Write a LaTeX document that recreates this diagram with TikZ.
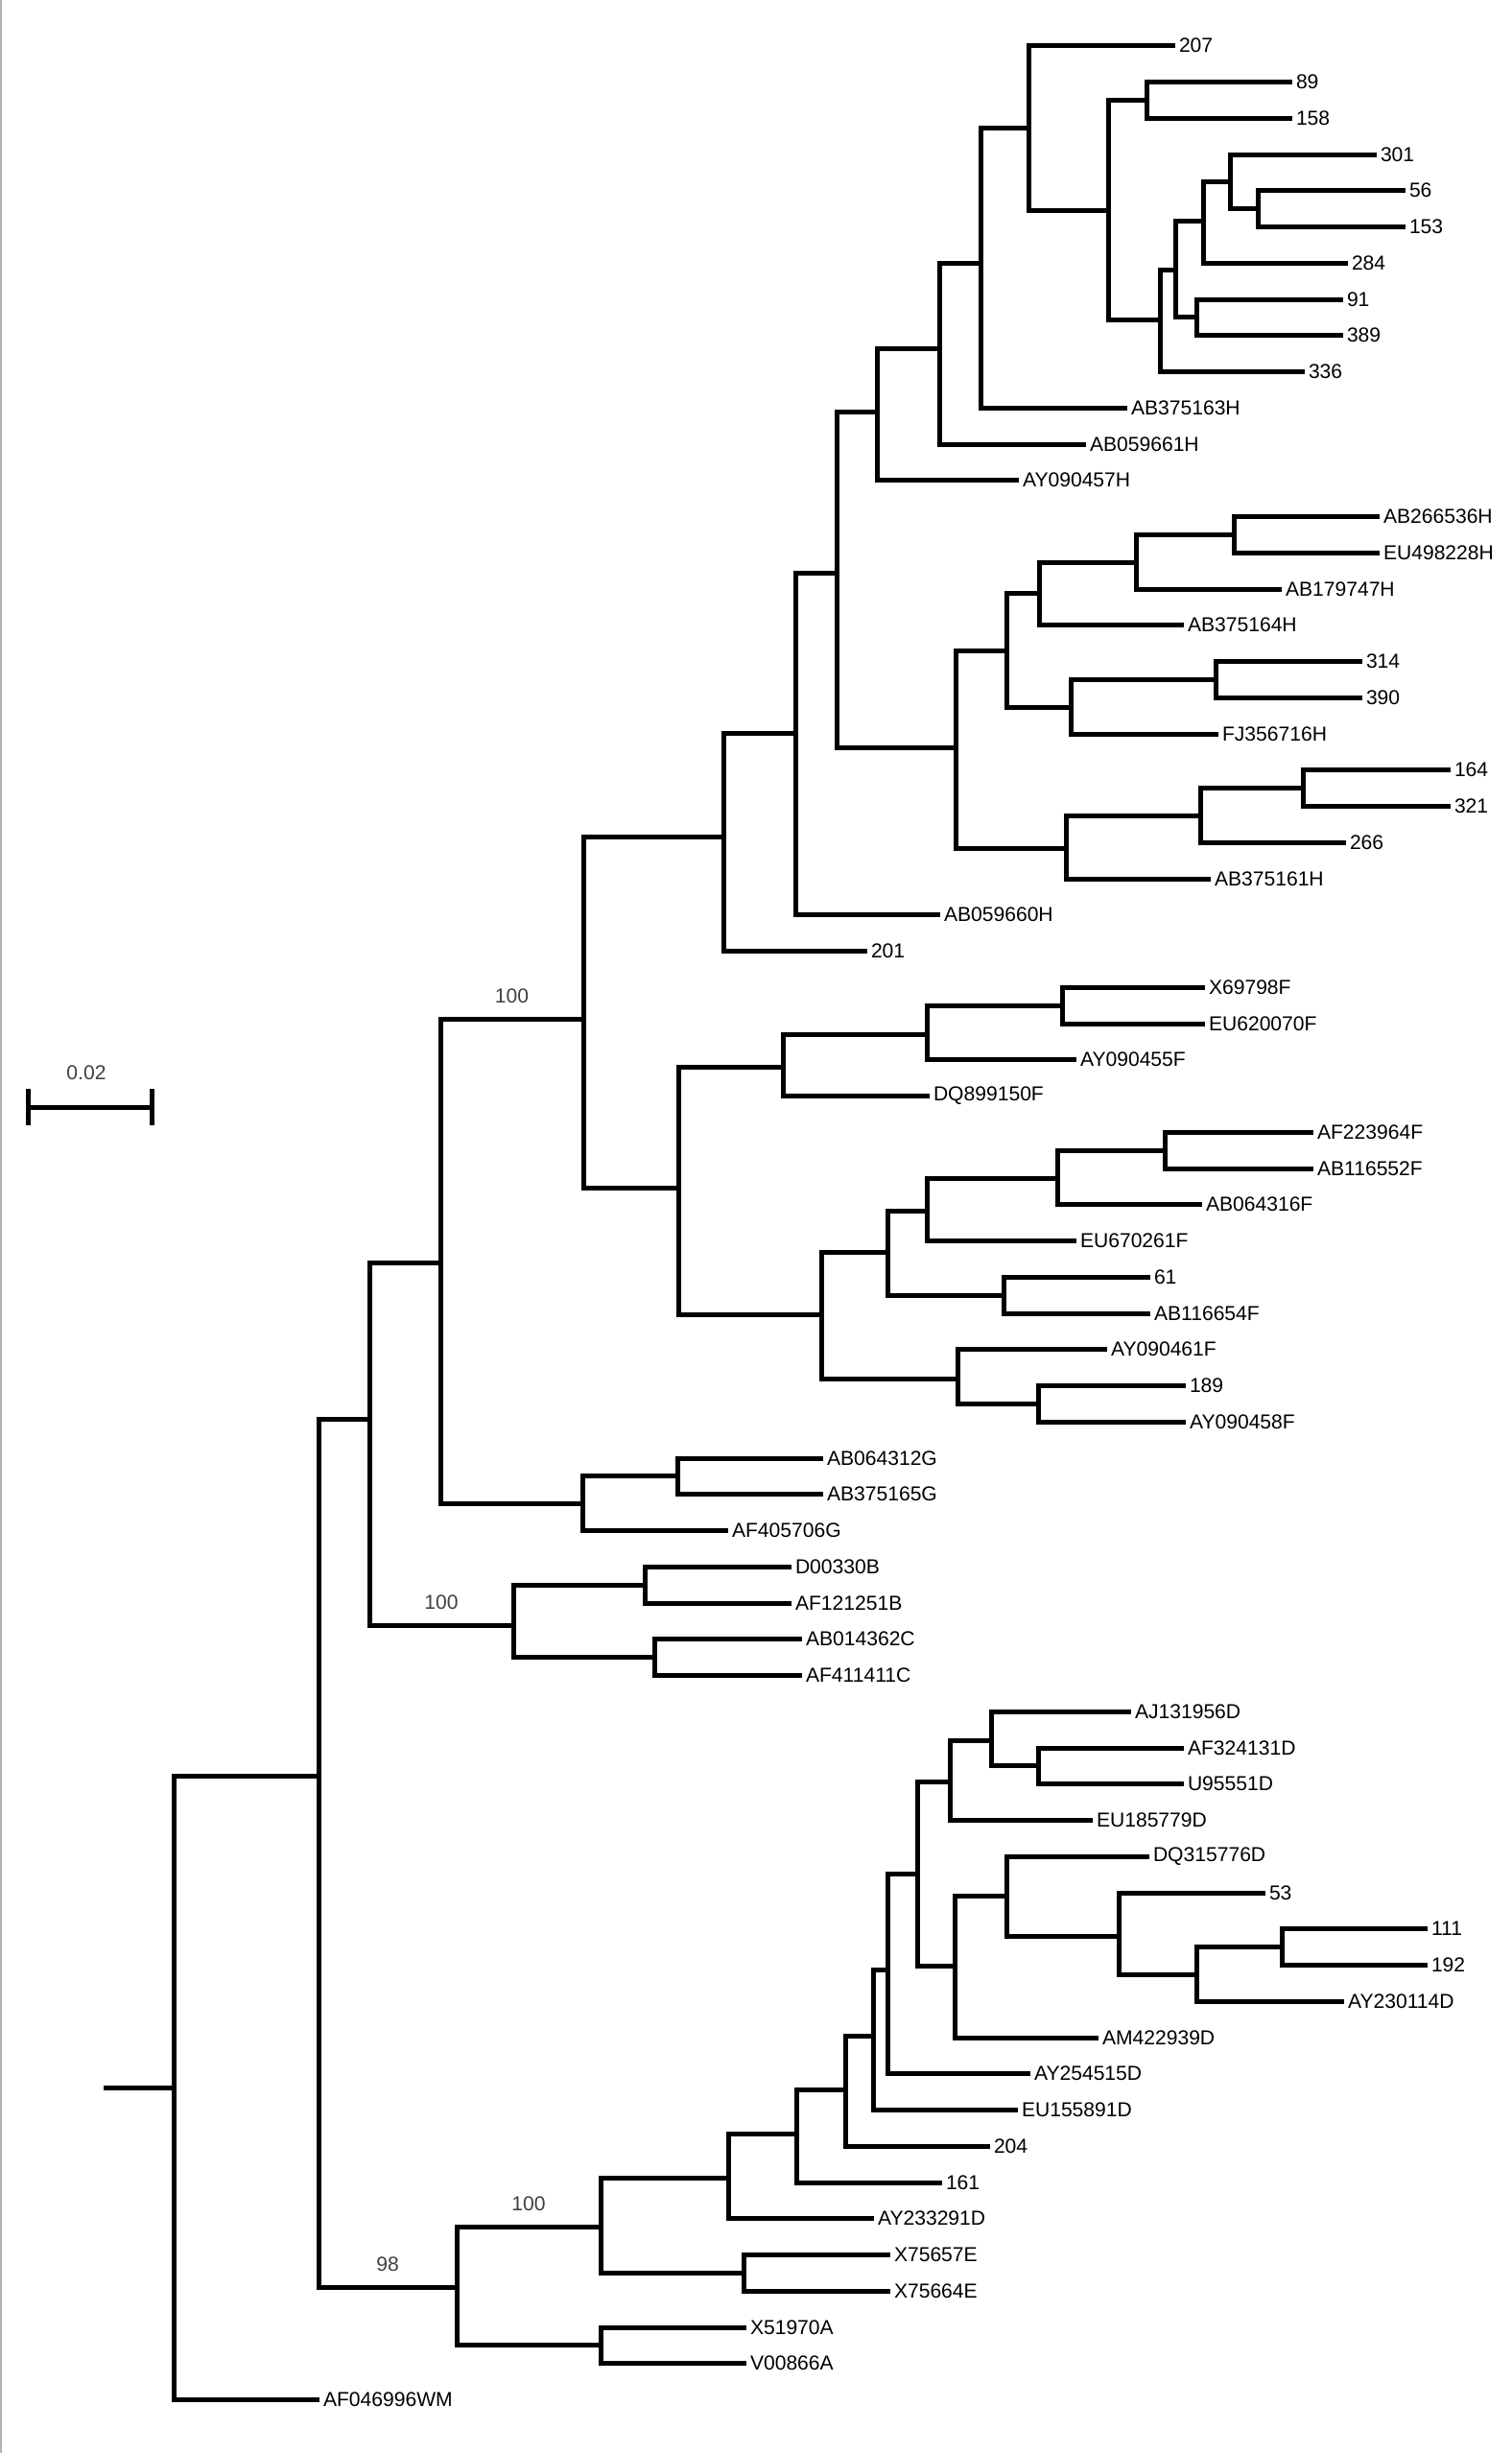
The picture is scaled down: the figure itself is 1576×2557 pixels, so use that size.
\documentclass[tikz,border=0pt]{standalone}
\usepackage{fontspec}
\setmainfont{Liberation Sans}
\tikzset{
	branch/.style={line width=0.5mm},
	leaf/.style={anchor=west, inner sep=0pt, outer xsep=0.4mm, font=\fontsize{6pt}{7pt}\selectfont},
	support/.style={above, inner sep=1.35mm, text=black!75, font=\fontsize{6pt}{7pt}\selectfont}
}

\begin{document}
\begin{tikzpicture}[x=0.1mm, y=-0.1mm]
			%%%%% START %%%%%
			\useasboundingbox (0,0) rectangle (1576,2557);
			\draw[black!30, line width=0.2mm] (1,0) -- (1,2557);
			
			% scale bar
			\coordinate (sbL) at (29,1154);
			\coordinate (sbR) at (158,1154);
			\draw[branch] (sbL) -- (sbR);
			\draw[branch] ([yshift=1.9mm]sbL) -- ([yshift=-1.9mm]sbL);
			\draw[branch] ([yshift=1.9mm]sbR) -- ([yshift=-1.9mm]sbR);
			\node[text=black!75, font=\fontsize{6pt}{7pt}\selectfont] (sbtext) at (90,1118) {0.02};
			
			% inner nodes
			\coordinate (base) at (108,2176);
			\coordinate (root) at (181,2176);
			\coordinate (nMain) at (332,1851);
			\coordinate (nHFGBC) at (385,1479);
			\coordinate (nHFG) at (459,1316);
			\coordinate (nHF) at (608,1062);
			
			\coordinate (nH) at (754,872);
			\coordinate (nH2) at (829,764);
			\coordinate (nH3) at (872,597);
			\coordinate (nH4) at (914,429);
			\coordinate (nH6) at (979,363);
			\coordinate (nH7) at (1022,274);
			\coordinate (nH8) at (1072,133.5);
			\coordinate (nH9) at (1155,219);
			\coordinate (nH10) at (1195,104.4);
			\coordinate (nH11) at (1209,333);
			\coordinate (nH12) at (1225,281);
			\coordinate (nH13) at (1254,230);
			\coordinate (nH15) at (1282,189.3);
			\coordinate (nH16) at (1311,217.6);
			\coordinate (nH14) at (1247,330.9);
			\coordinate (nH5) at (996,779);
			\coordinate (nH17) at (1049,678);
			\coordinate (nH19) at (1083,618);
			\coordinate (nH21) at (1184,586);
			\coordinate (nH22) at (1286,557.4);
			\coordinate (nH20) at (1116,737);
			\coordinate (nH23) at (1267,708.4);
			\coordinate (nH18) at (1111,884);
			\coordinate (nH24) at (1251,850.5);
			\coordinate (nH25) at (1358,821.6);
			
			\coordinate (nF) at (707,1238);
			\coordinate (nF1) at (816,1112);
			\coordinate (nF3) at (966,1078);
			\coordinate (nF4) at (1107,1048.1);
			\coordinate (nF2) at (856,1370);
			\coordinate (nF5) at (925,1305);
			\coordinate (nF7) at (966,1262);
			\coordinate (nF9) at (1102,1228);
			\coordinate (nF10) at (1214,1199.1);
			\coordinate (nF8) at (1046,1350.1);
			\coordinate (nF6) at (998,1437);
			\coordinate (nF11) at (1082,1463.4);
			
			\coordinate (nG) at (607,1567);
			\coordinate (nG1) at (706,1538.9);
			\coordinate (nBC) at (535,1694);
			\coordinate (nB) at (672,1652.1);
			\coordinate (nC) at (682,1727.6);
			
			\coordinate (n98) at (476,2384);
			\coordinate (nDE) at (626,2321);
			\coordinate (nA) at (626,2444.9);
			\coordinate (nE) at (775,2369.4);
			\coordinate (nD) at (759,2270);
			\coordinate (nD1) at (830,2224);
			\coordinate (nD2) at (881,2178);
			\coordinate (nD3) at (910,2122);
			\coordinate (nD4) at (925,2053);
			\coordinate (nD5) at (956,1953);
			\coordinate (nD6) at (990,1857);
			\coordinate (nD8) at (1033,1814);
			\coordinate (nD9) at (1082,1840.9);
			\coordinate (nD7) at (995,2049);
			\coordinate (nD10) at (1049,1976);
			\coordinate (nD11) at (1166,2018);
			\coordinate (nD12) at (1247,2058);
			\coordinate (nD13) at (1336,2029.6);
			
			% tips
			\node[leaf] (t207) at (1225,47.7) {207};
			\node[leaf] (t89) at (1347,85.5) {89};
			\node[leaf] (t158) at (1347,123.2) {158};
			\node[leaf] (t301) at (1435,161.0) {301};
			\node[leaf] (t56) at (1465,198.7) {56};
			\node[leaf] (t153) at (1465,236.5) {153};
			\node[leaf] (t284) at (1405,274.2) {284};
			\node[leaf] (t91) at (1400,312.0) {91};
			\node[leaf] (t389) at (1400,349.7) {389};
			\node[leaf] (t336) at (1360,387.5) {336};
			\node[leaf] (tAB375163H) at (1175,425.2) {AB375163H};
			\node[leaf] (tAB059661H) at (1132,463.0) {AB059661H};
			\node[leaf] (tAY090457H) at (1062,500.7) {AY090457H};
			\node[leaf] (tAB266536H) at (1438,538.5) {AB266536H};
			\node[leaf] (tEU498228H) at (1438,576.2) {EU498228H};
			\node[leaf] (tAB179747H) at (1336,614.0) {AB179747H};
			\node[leaf] (tAB375164H) at (1234,651.7) {AB375164H};
			\node[leaf] (t314) at (1420,689.5) {314};
			\node[leaf] (t390) at (1420,727.2) {390};
			\node[leaf] (tFJ356716H) at (1270,765.0) {FJ356716H};
			\node[leaf] (t164) at (1512,802.7) {164};
			\node[leaf] (t321) at (1512,840.5) {321};
			\node[leaf] (t266) at (1403,878.2) {266};
			\node[leaf] (tAB375161H) at (1262,916.0) {AB375161H};
			\node[leaf] (tAB059660H) at (980,953.7) {AB059660H};
			\node[leaf] (t201) at (904,991.5) {201};
			
			\node[leaf] (tX69798F) at (1256,1029.2) {X69798F};
			\node[leaf] (tEU620070F) at (1256,1067.0) {EU620070F};
			\node[leaf] (tAY090455F) at (1122,1104.7) {AY090455F};
			\node[leaf] (tDQ899150F) at (969,1142.5) {DQ899150F};
			\node[leaf] (tAF223964F) at (1369,1180.2) {AF223964F};
			\node[leaf] (tAB116552F) at (1369,1218.0) {AB116552F};
			\node[leaf] (tAB064316F) at (1253,1255.7) {AB064316F};
			\node[leaf] (tEU670261F) at (1122,1293.5) {EU670261F};
			\node[leaf] (t61) at (1199,1331.2) {61};
			\node[leaf] (tAB116654F) at (1199,1369.0) {AB116654F};
			\node[leaf] (tAY090461F) at (1154,1406.7) {AY090461F};
			\node[leaf] (t189) at (1236,1444.5) {189};
			\node[leaf] (tAY090458F) at (1236,1482.2) {AY090458F};
			
			\node[leaf] (tAB064312G) at (858,1520.0) {AB064312G};
			\node[leaf] (tAB375165G) at (858,1557.7) {AB375165G};
			\node[leaf] (tAF405706G) at (759,1595.5) {AF405706G};
			\node[leaf] (tD00330B) at (825,1633.2) {D00330B};
			\node[leaf] (tAF121251B) at (825,1671.0) {AF121251B};
			\node[leaf] (tAB014362C) at (836,1708.7) {AB014362C};
			\node[leaf] (tAF411411C) at (836,1746.5) {AF411411C};
			
			\node[leaf] (tAJ131956D) at (1179,1784.2) {AJ131956D};
			\node[leaf] (tAF324131D) at (1234,1822.0) {AF324131D};
			\node[leaf] (tU95551D) at (1234,1859.7) {U95551D};
			\node[leaf] (tEU185779D) at (1139,1897.5) {EU185779D};
			\node[leaf] (tDQ315776D) at (1198,1935.2) {DQ315776D};
			\node[leaf] (t53) at (1319,1973.0) {53};
			\node[leaf] (t111) at (1488,2010.7) {111};
			\node[leaf] (t192) at (1488,2048.5) {192};
			\node[leaf] (tAY230114D) at (1401,2086.2) {AY230114D};
			\node[leaf] (tAM422939D) at (1145,2124.0) {AM422939D};
			\node[leaf] (tAY254515D) at (1074,2161.7) {AY254515D};
			\node[leaf] (tEU155891D) at (1061,2199.5) {EU155891D};
			\node[leaf] (t204) at (1032,2237.2) {204};
			\node[leaf] (t161) at (982,2275.0) {161};
			\node[leaf] (tAY233291D) at (911,2312.7) {AY233291D};
			
			\node[leaf] (tX75657E) at (928,2350.5) {X75657E};
			\node[leaf] (tX75664E) at (928,2388.2) {X75664E};
			\node[leaf] (tX51970A) at (778,2426.0) {X51970A};
			\node[leaf] (tV00866A) at (778,2463.7) {V00866A};
			\node[leaf] (tAF046996WM) at (333,2501.5) {AF046996WM};
			
			% branches
			\draw[branch] (base) -- (root);
			\draw[branch] (root) |- (nMain) (root) |- (tAF046996WM.west);
			\draw[branch] (nMain) |- (nHFGBC) (nMain) |- (n98) node[support, pos=0.75] (bs98) {98};
			\draw[branch] (nHFGBC) |- (nHFG) (nHFGBC) |- (nBC) node[support, pos=0.75] (bsBC) {100};
			\draw[branch] (nHFG) |- (nHF) node[support, pos=0.75] (bsHF) {100} (nHFG) |- (nG);
			\draw[branch] (nHF) |- (nH) (nHF) |- (nF);
			
			\draw[branch] (nH) |- (nH2) (nH) |- (t201.west);
			\draw[branch] (nH2) |- (nH3) (nH2) |- (tAB059660H.west);
			\draw[branch] (nH3) |- (nH4) (nH3) |- (nH5);
			\draw[branch] (nH4) |- (nH6) (nH4) |- (tAY090457H.west);
			\draw[branch] (nH6) |- (nH7) (nH6) |- (tAB059661H.west);
			\draw[branch] (nH7) |- (nH8) (nH7) |- (tAB375163H.west);
			\draw[branch] (nH8) |- (t207.west) (nH8) |- (nH9);
			\draw[branch] (nH9) |- (nH10) (nH9) |- (nH11);
			\draw[branch] (nH10) |- (t89.west) (nH10) |- (t158.west);
			\draw[branch] (nH11) |- (nH12) (nH11) |- (t336.west);
			\draw[branch] (nH12) |- (nH13) (nH12) |- (nH14);
			\draw[branch] (nH13) |- (nH15) (nH13) |- (t284.west);
			\draw[branch] (nH15) |- (t301.west) (nH15) |- (nH16);
			\draw[branch] (nH16) |- (t56.west) (nH16) |- (t153.west);
			\draw[branch] (nH14) |- (t91.west) (nH14) |- (t389.west);
			\draw[branch] (nH5) |- (nH17) (nH5) |- (nH18);
			\draw[branch] (nH17) |- (nH19) (nH17) |- (nH20);
			\draw[branch] (nH19) |- (nH21) (nH19) |- (tAB375164H.west);
			\draw[branch] (nH21) |- (nH22) (nH21) |- (tAB179747H.west);
			\draw[branch] (nH22) |- (tAB266536H.west) (nH22) |- (tEU498228H.west);
			\draw[branch] (nH20) |- (nH23) (nH20) |- (tFJ356716H.west);
			\draw[branch] (nH23) |- (t314.west) (nH23) |- (t390.west);
			\draw[branch] (nH18) |- (nH24) (nH18) |- (tAB375161H.west);
			\draw[branch] (nH24) |- (nH25) (nH24) |- (t266.west);
			\draw[branch] (nH25) |- (t164.west) (nH25) |- (t321.west);
			
			\draw[branch] (nF) |- (nF1) (nF) |- (nF2);
			\draw[branch] (nF1) |- (nF3) (nF1) |- (tDQ899150F.west);
			\draw[branch] (nF3) |- (nF4) (nF3) |- (tAY090455F.west);
			\draw[branch] (nF4) |- (tX69798F.west) (nF4) |- (tEU620070F.west);
			\draw[branch] (nF2) |- (nF5) (nF2) |- (nF6);
			\draw[branch] (nF5) |- (nF7) (nF5) |- (nF8);
			\draw[branch] (nF7) |- (nF9) (nF7) |- (tEU670261F.west);
			\draw[branch] (nF9) |- (nF10) (nF9) |- (tAB064316F.west);
			\draw[branch] (nF10) |- (tAF223964F.west) (nF10) |- (tAB116552F.west);
			\draw[branch] (nF8) |- (t61.west) (nF8) |- (tAB116654F.west);
			\draw[branch] (nF6) |- (tAY090461F.west) (nF6) |- (nF11);
			\draw[branch] (nF11) |- (t189.west) (nF11) |- (tAY090458F.west);
			
			\draw[branch] (nG) |- (nG1) (nG) |- (tAF405706G.west);
			\draw[branch] (nG1) |- (tAB064312G.west) (nG1) |- (tAB375165G.west);
			\draw[branch] (nBC) |- (nB) (nBC) |- (nC);
			\draw[branch] (nB) |- (tD00330B.west) (nB) |- (tAF121251B.west);
			\draw[branch] (nC) |- (tAB014362C.west) (nC) |- (tAF411411C.west);
			
			\draw[branch] (n98) |- (nDE) node[support, pos=0.75] (bsDE) {100} (n98) |- (nA);
			\draw[branch] (nDE) |- (nD) (nDE) |- (nE);
			\draw[branch] (nD) |- (nD1) (nD) |- (tAY233291D.west);
			\draw[branch] (nD1) |- (nD2) (nD1) |- (t161.west);
			\draw[branch] (nD2) |- (nD3) (nD2) |- (t204.west);
			\draw[branch] (nD3) |- (nD4) (nD3) |- (tEU155891D.west);
			\draw[branch] (nD4) |- (nD5) (nD4) |- (tAY254515D.west);
			\draw[branch] (nD5) |- (nD6) (nD5) |- (nD7);
			\draw[branch] (nD6) |- (nD8) (nD6) |- (tEU185779D.west);
			\draw[branch] (nD8) |- (tAJ131956D.west) (nD8) |- (nD9);
			\draw[branch] (nD9) |- (tAF324131D.west) (nD9) |- (tU95551D.west);
			\draw[branch] (nD7) |- (nD10) (nD7) |- (tAM422939D.west);
			\draw[branch] (nD10) |- (tDQ315776D.west) (nD10) |- (nD11);
			\draw[branch] (nD11) |- (t53.west) (nD11) |- (nD12);
			\draw[branch] (nD12) |- (nD13) (nD12) |- (tAY230114D.west);
			\draw[branch] (nD13) |- (t111.west) (nD13) |- (t192.west);
			\draw[branch] (nE) |- (tX75657E.west) (nE) |- (tX75664E.west);
			\draw[branch] (nA) |- (tX51970A.west) (nA) |- (tV00866A.west);
			
			%%%%% END %%%%%
\end{tikzpicture}
\end{document}
